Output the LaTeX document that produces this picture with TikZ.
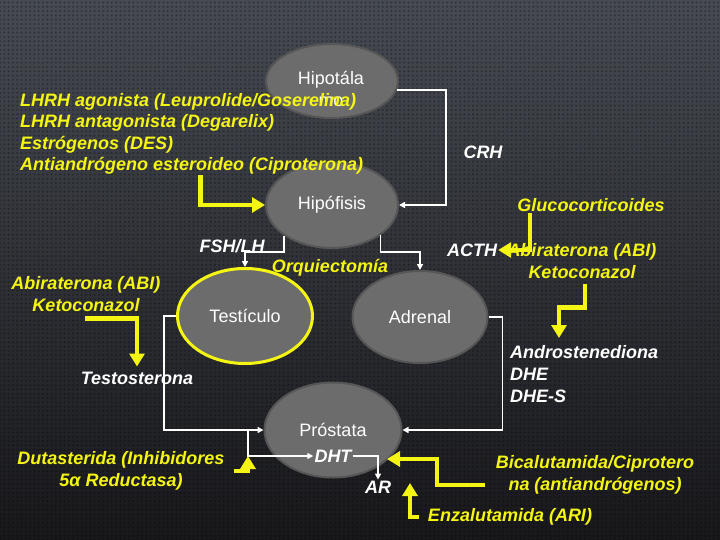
\documentclass[tikz,border=0pt]{standalone}
\usepackage{fontspec}
\setmainfont{Liberation Sans}
\usetikzlibrary{positioning,arrows.meta,shapes.geometric,patterns.meta}

\definecolor{slidetop}{RGB}{70,74,82}
\definecolor{slidebot}{RGB}{24,24,27}
\definecolor{organfill}{RGB}{108,108,108}
\definecolor{organline}{RGB}{86,86,86}
\definecolor{drugyellow}{RGB}{245,245,20}

\begin{document}
\begin{tikzpicture}[
    x=1pt, y=-1pt,
    organ/.style={ellipse, fill=organfill, draw=organline, line width=2pt, inner sep=0pt,
                  text=white, font=\fontsize{18}{22}\selectfont},
    organtext/.style={text=white, font=\fontsize{18}{22}\selectfont, align=center, inner sep=0pt},
    hormone/.style={text=white, font=\fontsize{18}{22}\selectfont\bfseries\itshape, inner sep=1pt},
    drug/.style={text=drugyellow, font=\fontsize{18}{22}\selectfont\bfseries\itshape, align=center, inner sep=1pt},
    link/.style={-{Triangle[length=6pt,width=6pt]}, draw=white, line width=1.8pt},
    block/.style={-{Triangle[length=13pt,width=15pt]}, draw=drugyellow, line width=4.5pt}
]
\shade[top color=slidetop, bottom color=slidebot] (0,0) rectangle (720,540);
\fill[pattern={Dots[radius=1.1pt, distance=4.3pt]}, pattern color=black, opacity=.3] (0,0) rectangle (720,540);

% organos
\node[organ, minimum width=132pt, minimum height=74pt] (hipo) at (332,81) {};
\node[organtext] (hipotext) at (331,89) {Hipotála\\mo};
\node[organ, minimum width=132pt, minimum height=86pt] (hipof) at (332,205) {Hipófisis};
\node[organ, draw=drugyellow, line width=3pt, minimum width=135pt, minimum height=95pt] (test) at (245,316) {Testículo};
\node[organ, minimum width=135pt, minimum height=92pt] (adrenal) at (420,317) {Adrenal};
\node[organ, minimum width=137pt, minimum height=95pt] (prostata) at (333,430) {};
\node[organtext] (prostext) at (333,430) {Próstata};
\node[hormone] (dht) at (333,456) {DHT};

% hormonas
\node[hormone] (crh) at (483,152) {CRH};
\node[hormone] (fshlh) at (232,246) {FSH/LH};
\node[hormone] (acth) at (472,250) {ACTH};
\node[hormone] (testo) at (137,378) {Testosterona};
\node[hormone] (ar) at (378,487) {AR};
\node[hormone, align=left, anchor=west, inner sep=0pt] (andro) at (510,374) {Androstenediona\\DHE\\DHE-S};

% farmacos
\node[drug, align=left, anchor=west, inner sep=0pt, font=\fontsize{18}{21.5}\selectfont\bfseries\itshape] (lhrh) at (20,134)
    {LHRH agonista (Leuprolide/Goserelina)\\LHRH antagonista (Degarelix)\\Estrógenos (DES)\\Antiandrógeno esteroideo (Ciproterona)};
\node[drug] (gluco) at (591,205) {Glucocorticoides};
\node[drug] (abiR) at (582,261.5) {Abiraterona (ABI)\\Ketoconazol};
\node[drug] (orq) at (330,268) {Orquiectomía};
\node[drug] (abiL) at (86,294.5) {Abiraterona (ABI)\\Ketoconazol};
\node[drug] (duta) at (121,471) {Dutasterida (Inhibidores\\5α Reductasa)};
\node[drug] (bica) at (595,474.5) {Bicalutamida/Ciprotero\\na (antiandrógenos)};
\node[drug] (enza) at (510,517) {Enzalutamida (ARI)};

\coordinate (dhtsplit) at (248,430);
\coordinate (androtip) at (559,338);
\coordinate (dutatip) at (248,456);
\coordinate (bicafoot) at (485,485);
\coordinate (bicatip) at (387,459);
\coordinate (enzatip) at (410,483);

% eje hormonal
\draw[link] (hipo.-8) -- ++(49,0) |- (hipof.east);
\draw[link] (hipof.213) -- ++(0,16) -| (test.north);
\draw[link] (hipof.-32) -- ++(0,17) -| (adrenal.north);
\draw[link] (test.west) -- ++(-12,0) |- (prostata.west);
\draw[link] (dhtsplit) |- (dht.west);
\draw[link] (adrenal.east) -- ++(14,0) |- (prostata.east);
\draw[link] (dht.east) -| (ar.north);

% bloqueos
\draw[block] ([xshift=9pt]lhrh.south) |- (hipof.west);
\draw[block] ([xshift=-61pt]gluco.south) |- (acth.east);
\draw[block] ([xshift=3pt]abiR.south) ++(0,4) -- ++(0,23) -| (androtip);
\draw[block, shorten >=4pt] ([xshift=-1pt]abiL.south) ++(0,5) -| (testo.north);
\draw[block] ([xshift=8pt]duta.east) -| (dutatip);
\draw[block] (bicafoot) -- ++(-48,0) |- (bicatip);
\draw[block] ([xshift=-8pt]enza.west) -| (enzatip);
\end{tikzpicture}
\end{document}
